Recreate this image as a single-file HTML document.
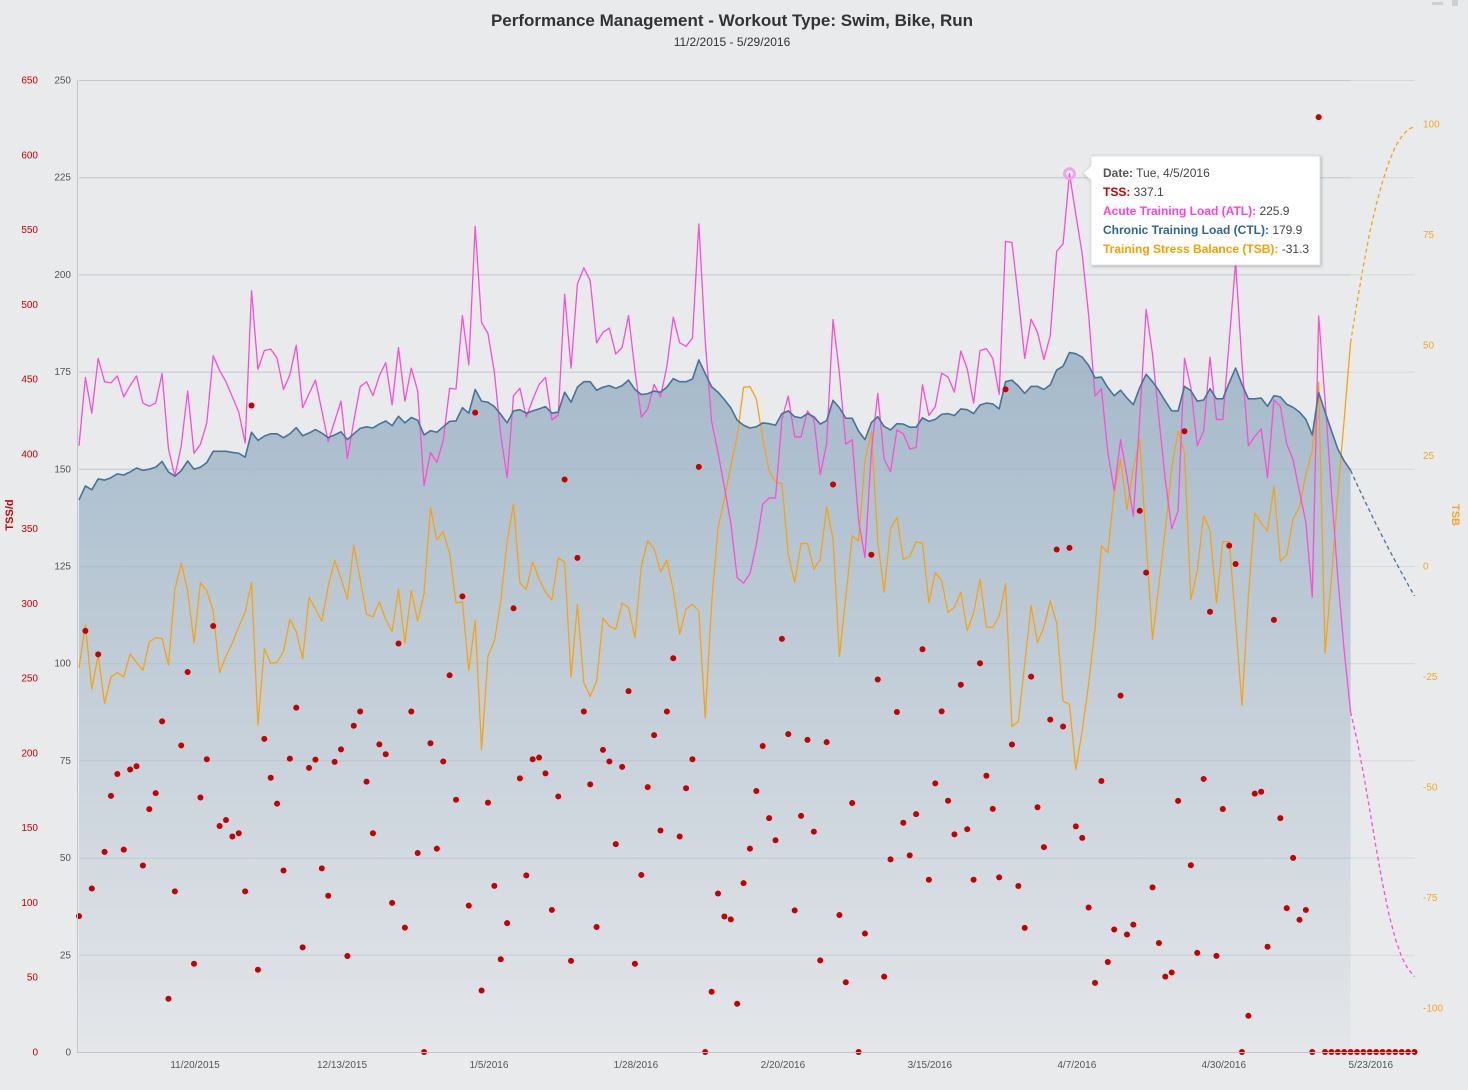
<!DOCTYPE html>
<html>
<head>
<meta charset="utf-8">
<style>
html,body{margin:0;padding:0;background:#e9eaec;}
svg{display:block;font-family:"Liberation Sans",Arial,sans-serif;}
</style>
</head>
<body>
<svg id="chart" width="1468" height="1090" viewBox="0 0 1468 1090" xmlns="http://www.w3.org/2000/svg">
  <defs>
    <linearGradient id="ctlFill" gradientUnits="userSpaceOnUse" x1="0" y1="350" x2="0" y2="1052">
      <stop offset="0" stop-color="#a4b9ca"/>
      <stop offset="0.5" stop-color="#c4cfd9"/>
      <stop offset="1" stop-color="#e4e6e9"/>
    </linearGradient>
    <filter id="shadow" x="-10%" y="-10%" width="130%" height="140%">
      <feDropShadow dx="1" dy="1" stdDeviation="1.5" flood-color="#000" flood-opacity="0.25"/>
    </filter>
  </defs>
  <rect x="0" y="0" width="1468" height="1090" fill="#e9eaec"/>
  <text x="732" y="26" text-anchor="middle" font-size="17" font-weight="bold" fill="#333">Performance Management - Workout Type: Swim, Bike, Run</text>
  <text x="732" y="46" text-anchor="middle" font-size="12" fill="#333">11/2/2015 - 5/29/2016</text>
  <rect x="1432" y="2" width="11" height="3" fill="#cfcfcf"/>
  <rect x="1452" y="0" width="6" height="6" fill="#cfcfcf"/>
  <g id="grid"></g>
  <g id="area"></g>
  <g id="lines"></g>
  <g id="dots"></g>
  <g id="axes"></g>
  <text transform="translate(13,515) rotate(-90)" text-anchor="middle" font-size="11" font-weight="bold" fill="#cc0000">TSS/d</text>
  <text transform="translate(1452,515) rotate(90)" text-anchor="middle" font-size="11" font-weight="bold" fill="#f5a623">TSB</text>
  <g id="tooltip"></g>
</svg>
<script>
// ---- data ----
const xTickLabels = ["11/20/2015","12/13/2015","1/5/2016","1/28/2016","2/20/2016","3/15/2016","4/7/2016","4/30/2016","5/23/2016"];
const xTickDays = [18,41,64,87,110,133,156,179,202];
const leftTicks = [0,25,50,75,100,125,150,175,200,225,250];
const tssTicks = [0,50,100,150,200,250,300,350,400,450,500,550,600,650];
const tsbTicks = [-100,-75,-50,-25,0,25,50,75,100];

const ctl = [142.0,145.6,144.6,147.4,147.1,147.7,148.7,148.4,149.2,150.2,149.6,149.9,150.4,151.9,149.2,148.1,149.5,152.0,149.9,150.4,151.6,154.5,154.5,154.5,154.2,154.0,153.0,159.4,157.3,158.4,159.0,159.0,158.0,159.0,160.6,158.5,159.2,160.1,159.2,158.0,158.7,159.5,157.5,159.0,160.4,160.8,160.5,161.5,162.3,161.1,163.5,161.8,163.2,162.5,158.7,
159.8,159.4,160.8,162.2,162.3,165.7,164.3,170.4,167.4,167.1,166.0,164.0,161.8,164.9,165.2,164.3,164.9,165.4,166.0,164.3,164.6,169.7,167.1,171.0,172.4,172.4,170.2,171.0,171.4,170.7,171.4,172.8,170.4,169.1,169.3,170.0,169.7,171.0,173.2,172.4,172.4,173.1,178.0,174.5,171.1,169.7,167.8,165.7,162.5,161.2,160.5,160.8,161.8,
161.6,161.2,164.2,164.9,163.4,163.1,164.2,163.4,161.5,162.4,167.6,165.7,163.0,163.0,159.7,157.5,161.9,163.4,160.9,160.0,161.6,161.5,160.7,160.7,163.1,162.2,162.7,164.0,164.2,163.7,165.4,165.2,164.2,166.4,166.9,166.7,165.4,172.4,172.8,171.3,169.4,171.2,171.2,170.4,171.6,175.4,176.4,179.9,179.6,178.7,176.6,173.4,173.6,
170.9,168.8,170.2,168.2,166.5,170.9,174.3,172.4,170.1,167.4,164.9,164.9,171.2,170.1,167.4,167.7,170.6,168.0,168.0,172.1,175.9,171.7,168.0,168.0,168.2,166.1,168.8,168.5,166.6,165.8,164.6,162.7,158.7,169.6,164.6,159.8,155.1,152.0,149.6];
const ctlProjected = [146.0,142.5,139.1,135.7,132.5,129.3,126.2,123.2,120.2,117.3];

const atl = [155.9,173.5,164.3,178.4,172.4,172.1,173.9,168.5,171.4,173.9,166.9,166.1,166.9,174.5,155.1,148.1,155.9,170.0,154.0,156.3,161.8,179.1,175.3,172.4,168.5,164.6,156.6,195.8,175.6,180.4,180.8,178.4,170.4,174.2,181.8,165.7,169.3,172.8,165.0,157.0,162.2,167.4,152.7,162.2,171.1,172.4,168.8,173.9,177.3,166.4,181.2,167.4,175.9,170.0,145.7,
154.2,151.6,157.3,170.7,170.5,189.4,176.7,212.3,187.6,184.8,174.9,158.7,147.7,168.8,170.7,163.3,167.8,171.7,173.5,162.6,163.8,194.9,175.9,197.5,201.7,198.4,182.4,185.1,186.2,179.5,181.2,189.4,175.3,163.3,165.4,171.7,168.5,176.3,189.0,182.4,181.5,183.6,213.0,182.9,162.2,154.2,145.3,136.1,122.0,120.6,123.0,130.5,140.9,
142.5,142.5,162.7,168.7,158.2,158.2,164.9,162.7,148.5,156.4,188.4,174.6,156.3,157.5,136.6,127.2,154.5,169.4,152.5,149.3,160.0,159.0,155.1,155.5,171.6,163.7,166.0,174.6,173.6,169.7,180.3,175.7,166.9,180.4,180.9,178.4,169.1,208.5,208.2,194.0,178.4,188.5,185.1,178.1,184.3,206.0,207.8,225.9,215.4,205.2,189.6,168.7,170.6,
154.3,144.4,157.5,148.0,137.8,163.0,191.0,179.5,163.0,147.2,134.6,139.1,178.4,170.9,155.9,159.8,178.7,162.7,162.7,182.7,203.1,177.2,155.9,158.3,160.3,147.7,167.7,166.1,156.4,152.3,144.1,136.2,117.0,189.3,167.7,144.1,122.0,103.1,87.4];
const atlProjected = [80.3,71.7,62.2,52.4,43.3,35.4,29.1,24.4,21.3,19.4];

const tsb = [-23.0,-13.3,-27.8,-20.1,-31.1,-25.1,-24.1,-25.1,-19.9,-21.8,-23.6,-17.2,-16.2,-16.4,-22.4,-5.3,0.6,-5.5,-17.4,-3.8,-5.6,-10.2,-24.1,-20.4,-17.4,-13.7,-10.5,-3.7,-36.0,-18.7,-22.0,-21.8,-19.3,-12.1,-14.8,-21.0,-7.1,-9.7,-12.5,-4.6,1.3,-2.8,-7.5,4.7,-3.0,-10.9,-11.5,-8.1,-12.1,-14.8,-5.3,-17.4,-5.5,-12.5,-6.2,
13.3,5.9,7.8,2.8,-8.4,-8.1,-23.6,-12.3,-41.6,-20.4,-17.0,-8.1,5.7,14.0,-3.8,-5.3,0.9,-3.0,-5.9,-7.7,1.8,0.9,-25.1,-8.7,-26.4,-29.5,-26.1,-11.8,-13.6,-14.3,-8.4,-9.4,-16.2,0.0,5.7,3.9,-1.3,1.3,-5.5,-15.4,-9.7,-8.7,-10.2,-34.4,-8.4,8.6,15.2,22.7,29.3,40.4,40.6,37.8,28.8,
21.5,19.0,18.6,2.5,-3.7,5.1,5.1,-0.7,1.5,13.4,6.1,-20.5,-7.0,6.8,5.7,23.9,30.4,5.5,-5.9,8.5,11.0,1.5,2.2,5.5,5.1,-8.3,-1.5,-3.3,-10.5,-9.3,-5.9,-14.6,-10.7,-3.0,-13.8,-13.9,-11.3,-4.0,-36.3,-35.2,-22.1,-9.0,-17.3,-13.8,-7.9,-12.9,-30.6,-31.3,-46.0,-37.2,-26.7,-14.2,4.6,
3.0,16.6,24.2,12.7,22.2,28.7,5.5,-16.6,-4.2,8.3,22.2,30.5,25.6,-7.6,-1.1,11.4,8.0,-8.3,5.5,5.5,-12.5,-31.6,-6.9,12.0,9.7,7.9,18.0,1.1,2.5,10.7,13.4,20.8,26.0,41.6,-19.7,-2.8,16.6,33.2,50.6];
const tsbProjected = [59.6,67.9,75.5,81.7,87.0,91.4,94.9,97.2,98.8,99.4];

const tss = [90.9,281.6,109.3,265.9,133.8,171.3,185.9,135.3,188.9,191.1,124.7,162.4,173.1,221.1,35.6,107.4,205.0,254.1,59.0,170.2,195.8,284.9,151.1,155.1,144.1,146.3,107.4,432.3,55.0,209.4,183.4,166.1,121.4,196.2,230.3,70.0,190.0,195.5,122.8,104.5,194.0,202.4,64.2,218.2,227.7,180.8,146.3,205.7,199.1,99.7,273.2,83.2,227.7,133.1,0,
206.5,136.0,194.3,251.9,168.7,304.7,97.9,427.6,41.1,166.8,111.1,62.0,86.2,296.7,183.0,118.1,195.8,196.9,186.3,95.0,170.9,382.8,60.9,330.4,227.7,179.0,83.6,202.0,194.3,139.0,190.7,241.3,59.0,118.4,177.1,211.9,148.1,227.7,263.3,144.1,176.4,195.8,391.3,0,40.3,106.0,90.6,88.7,32.3,112.9,136.0,174.5,204.6,
156.4,141.6,276.3,212.6,94.7,157.9,208.7,147.4,61.3,207.2,379.5,91.6,46.6,166.5,0,79.2,332.5,249.1,50.4,128.8,227.4,153.3,131.5,159.1,269.3,115.2,179.6,227.8,168.0,145.5,245.6,149.0,115.2,260.0,184.7,162.6,116.8,443.1,205.6,111.0,83.0,251.0,163.7,137.0,222.3,336.0,217.7,337.1,150.9,143.2,96.6,46.2,181.2,
60.2,81.9,238.3,78.6,85.2,361.9,320.6,110.1,72.9,50.4,53.2,167.9,415.1,124.9,66.3,182.6,294.4,64.3,162.5,338.6,326.3,0,24.2,172.8,174.0,70.4,289.0,156.4,96.2,129.8,88.4,95.0,0,625.2,
0,0,0,0,0,0,0,0,0,0,0,0,0,0,0];

// ---- scales ----
const X0 = 79, DAY = 6.39;
function xs(d){ return X0 + DAY*d; }
function yL(v){ return 1052 - v*3.888; }
function yT(v){ return 1052 - v*1.4954; }
function yB(v){ return 566 - v*4.42; }
const NS = "http://www.w3.org/2000/svg";
function mk(tag, attrs, parent){
  const el = document.createElementNS(NS, tag);
  for (const k in attrs) el.setAttribute(k, attrs[k]);
  parent.appendChild(el);
  return el;
}
const grid = document.getElementById('grid');
const area = document.getElementById('area');
const lines = document.getElementById('lines');
const dots = document.getElementById('dots');
const axes = document.getElementById('axes');

leftTicks.forEach(v => {
  if (v === 0) return;
  const g = mk('line', {x1:79, x2:1415, y1:yL(v)+0.5, y2:yL(v)+0.5, stroke:'#d5d7da', 'stroke-width':1}, grid);
  
  
});

let dA = 'M' + xs(0) + ',1052';
ctl.forEach((v,i) => { dA += ' L' + xs(i).toFixed(2) + ',' + yL(v).toFixed(2); });
dA += ' L' + xs(ctl.length-1).toFixed(2) + ',1052 Z';
const areaEl = mk('path', {d:dA, fill:'url(#ctlFill)'}, area);


leftTicks.forEach(v => {
  if (v === 0) return;
  mk('line', {x1:79, x2:xs(ctl.length-1), y1:yL(v)+0.5, y2:yL(v)+0.5, stroke:'#9fb0bf', 'stroke-width':1, 'stroke-opacity':0.35}, area);
});

function linePath(arr, yf, offset){
  let d = '';
  arr.forEach((v,i) => { d += (i ? ' L' : 'M') + xs(i+offset).toFixed(2) + ',' + yf(v).toFixed(2); });
  return d;
}
function projPath(last, arr, yf, startDay){
  let d = 'M' + xs(startDay).toFixed(2) + ',' + yf(last).toFixed(2);
  arr.forEach((v,i) => { d += ' L' + xs(startDay+1+i).toFixed(2) + ',' + yf(v).toFixed(2); });
  return d;
}
const lastDay = ctl.length - 1;

const tsbLine = mk('path', {d:linePath(tsb, yB, 0), fill:'none', stroke:'#f7a30f', 'stroke-width':1.3, 'stroke-linejoin':'round'}, lines);


const tsbProj = mk('path', {d:projPath(tsb[lastDay], tsbProjected, yB, lastDay), fill:'none', stroke:'#f7a30f', 'stroke-width':1.3, 'stroke-dasharray':'4,3'}, lines);



const atlLine = mk('path', {d:linePath(atl, yL, 0), fill:'none', stroke:'#ff4bd6', 'stroke-width':1.3, 'stroke-linejoin':'round'}, lines);


const atlProj = mk('path', {d:projPath(atl[lastDay], atlProjected, yL, lastDay), fill:'none', stroke:'#ff4bd6', 'stroke-width':1.3, 'stroke-dasharray':'4,3'}, lines);



const ctlLine = mk('path', {d:linePath(ctl, yL, 0), fill:'none', stroke:'#47739a', 'stroke-width':1.6, 'stroke-linejoin':'round'}, lines);


const ctlProj = mk('path', {d:projPath(ctl[lastDay], ctlProjected, yL, lastDay), fill:'none', stroke:'#47739a', 'stroke-width':1.3, 'stroke-dasharray':'4,3'}, lines);



tss.forEach((v,i) => {
  const c = mk('circle', {cx:xs(i).toFixed(2), cy:yT(v).toFixed(2), r:3, fill:'#c40000'}, dots);
  
  
});

const yAxis = mk('line', {x1:77.5, x2:77.5, y1:80, y2:1053, stroke:'#c3c4c6', 'stroke-width':1}, axes);


const xAxis = mk('line', {x1:77, x2:1415, y1:1052.5, y2:1052.5, stroke:'#c3c4c6', 'stroke-width':1}, axes);



leftTicks.forEach(v => {
  const t = mk('text', {x:71, y:yL(v)+3.5, 'text-anchor':'end', 'font-size':10, fill:'#555'}, axes);
  t.textContent = v;
  
  
});
tssTicks.forEach(v => {
  const t = mk('text', {x:38, y:yT(v)+3.5, 'text-anchor':'end', 'font-size':10, fill:'#cc0000'}, axes);
  t.textContent = v;
  
  
});
tsbTicks.forEach(v => {
  const t = mk('text', {x:1423, y:yB(v)+3.5, 'text-anchor':'start', 'font-size':10, fill:'#f5a623'}, axes);
  t.textContent = v;
  
  
});
xTickLabels.forEach((lab,i) => {
  const t = mk('text', {x:xs(xTickDays[i])+1, y:1068, 'text-anchor':'middle', 'font-size':10, fill:'#555'}, axes);
  t.textContent = lab;
  
  
});

const tip = document.getElementById('tooltip');
const hd = 155;
const mx = xs(hd), my = yL(atl[hd]);
const marker = mk('circle', {cx:mx, cy:my, r:5, fill:'none', stroke:'#f4a3e6', 'stroke-width':3}, tip);


const box = mk('path', {d:'M1091,156 L1320,156 L1320,265 L1091,265 L1091,180 L1083,173 L1091,166 Z', fill:'#fff', stroke:'#e0e0e0', 'stroke-width':1, filter:'url(#shadow)'}, tip);


const rows = [
  ['Date:', ' Tue, 4/5/2016', '#555'],
  ['TSS:', ' ' + tss[hd].toFixed(1), '#c40000'],
  ['Acute Training Load (ATL):', ' ' + atl[hd].toFixed(1), '#ff3fd3'],
  ['Chronic Training Load (CTL):', ' ' + ctl[hd].toFixed(1), '#2f6590'],
  ['Training Stress Balance (TSB):', ' ' + tsb[hd].toFixed(1), '#f5a000']
];
rows.forEach((r,i) => {
  const t = mk('text', {x:1103, y:177 + i*19, 'font-size':12, fill:'#444'}, tip);
  const a = mk('tspan', {'font-weight':'bold', fill:r[2]}, t);
  a.textContent = r[0];
  const b = mk('tspan', {}, t);
  b.textContent = r[1];
  
  
});
</script>
</body>
</html>
